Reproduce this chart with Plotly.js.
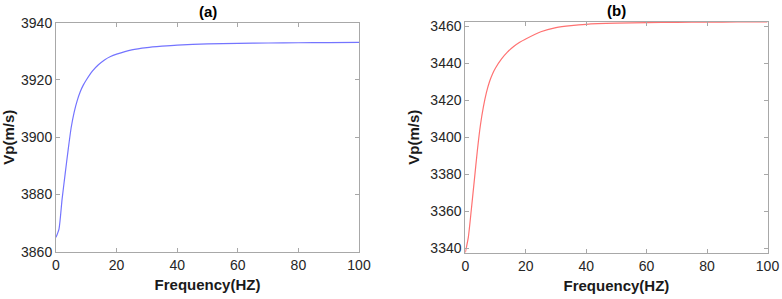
<!DOCTYPE html>
<html>
<head>
<meta charset="utf-8">
<script src="https://cdn.plot.ly/plotly-3.0.1.min.js"></script>
<style>
html,body{margin:0;padding:0;background:#fff;}
#chart{width:782px;height:299px;}
</style>
</head>
<body>
<div id="chart"></div>
<script>
// Frequency samples (Hz)
const freqA = [0,1,2,3,4,5,6,7,8,9,10,12,14,16,18,20,25,30,35,40,50,60,70,80,90,100];
const vpA   = [3865.0,3868.0,3878.3,3887.0,3895.5,3903.3,3908.8,3912.8,3915.9,3918.2,3920.0,3923.1,3925.3,3927.0,3928.2,3929.0,3930.5,3931.3,3931.8,3932.2,3932.6,3932.8,3932.9,3933.0,3933.05,3933.1];

const freqB = [0,1,2,3,4,5,6,7,8,9,10,12,14,16,18,20,25,30,35,40,50,60,70,80,90,100];
const vpB   = [3337.8,3346.0,3361.0,3377.0,3393.0,3406.5,3416.5,3424.2,3430.0,3434.2,3437.4,3442.3,3446.1,3449.0,3451.3,3453.1,3457.0,3459.2,3460.3,3461.0,3461.6,3461.9,3462.05,3462.15,3462.25,3462.3];

const titleA = "(a)";
const titleB = "(b)";
const xTitle = "Frequency(HZ)";
const yTitle = "Vp(m/s)";

const FONT = "'Liberation Sans', Arial, sans-serif";
const axCol = "#a8a8a8";

function xax(domain, anchor){
  return {
    domain: domain, anchor: anchor, range:[0,100], dtick:20, tick0:0,
    showline:true, linecolor:axCol, linewidth:1, mirror:'ticks',
    ticks:'inside', ticklen:4, tickcolor:axCol, showgrid:false, zeroline:false,
    tickfont:{family:FONT, size:14, color:'#262626'},
    title:{text:xTitle, font:{family:FONT, size:15, color:'#1a1a1a', weight:'bold'}, standoff:7}
  };
}
function yax(domain, anchor, range){
  return {
    domain: domain, anchor: anchor, range:range, dtick:20, tick0:0,
    showline:true, linecolor:axCol, linewidth:1, mirror:'ticks',
    ticks:'inside', ticklen:4, tickcolor:axCol, showgrid:false, zeroline:false,
    tickfont:{family:FONT, size:14, color:'#262626'},
    title:{text:yTitle, font:{family:FONT, size:15, color:'#1a1a1a', weight:'bold'}, standoff:7}
  };
}

const data = [
  {x:freqA, y:vpA, type:'scatter', mode:'lines', xaxis:'x', yaxis:'y',
   line:{color:'#7474ff', width:1.2, shape:'spline', smoothing:0.6}, hoverinfo:'skip'},
  {x:freqB, y:vpB, type:'scatter', mode:'lines', xaxis:'x2', yaxis:'y2',
   line:{color:'#ff7272', width:1.2, shape:'spline', smoothing:0.6}, hoverinfo:'skip'}
];

const layout = {
  width:782, height:299,
  margin:{l:0, r:0, t:0, b:0},
  paper_bgcolor:'#ffffff', plot_bgcolor:'#ffffff',
  showlegend:false,
  font:{family:FONT},
  xaxis: xax([56/782, 359/782], 'y'),
  yaxis: yax([1-251.7/299, 1-22.7/299], 'x', [3860, 3940]),
  xaxis2: xax([465.3/782, 767.5/782], 'y2'),
  yaxis2: yax([1-252.7/299, 1-21.7/299], 'x2', [3337.7, 3462.4]),
  annotations:[
    {text:titleA, xref:'paper', yref:'paper', x:207.5/782, y:1-12/299, xanchor:'center', yanchor:'middle',
     showarrow:false, font:{family:FONT, size:15, color:'#000', weight:'bold'}},
    {text:titleB, xref:'paper', yref:'paper', x:616.5/782, y:1-11/299, xanchor:'center', yanchor:'middle',
     showarrow:false, font:{family:FONT, size:15, color:'#000', weight:'bold'}}
  ]
};

Plotly.newPlot('chart', data, layout, {staticPlot:true, displayModeBar:false});
</script>
</body>
</html>
